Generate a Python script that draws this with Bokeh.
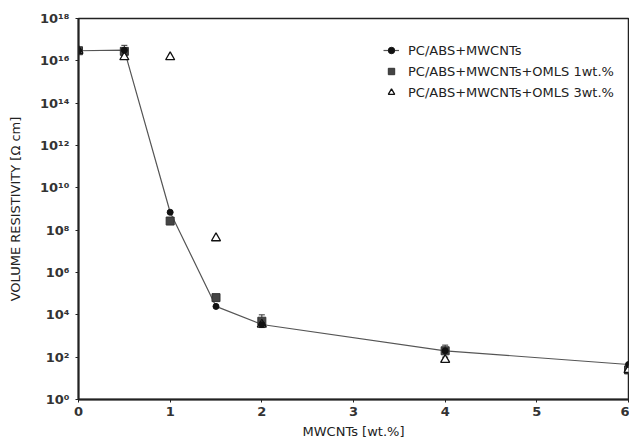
from bokeh.plotting import figure
from bokeh.models import FixedTicker, ColumnDataSource, Whisker, Legend, LegendItem, Range1d
from bokeh.embed import file_html
from bokeh.resources import INLINE

# data
x_vals = [0, 0.5, 1, 1.5, 2, 4, 6]
s1_name = "PC/ABS+MWCNTs"
s1_y = [3.0e16, 3.2e16, 7.0e8, 2.5e4, 3.5e3, 2.0e2, 4.5e1]
s2_name = "PC/ABS+MWCNTs+OMLS 1wt.%"
s2_y = [3.0e16, 2.8e16, 2.7e8, 6.5e4, 5.0e3, 2.0e2, 2.5e1]
s3_name = "PC/ABS+MWCNTs+OMLS 3wt.%"
s3_y = [3.0e16, 1.5e16, 1.5e16, 4.2e7, 3.5e3, 7.5e1, 2.5e1]
err_x = [0.5, 2, 4]
err_lo = [2.0e16, 2.5e3, 1.0e2]
err_hi = [5.4e16, 1.0e4, 3.7e2]
y_ticks = [1e0, 1e2, 1e4, 1e6, 1e8, 1e10, 1e12, 1e14, 1e16, 1e18]
y_tick_labels = ["10⁰", "10²", "10⁴", "10⁶", "10⁸", "10¹⁰", "10¹²", "10¹⁴", "10¹⁶", "10¹⁸"]
x_ticks = [0, 1, 2, 3, 4, 5, 6]

FONT = "DejaVu Sans"

p = figure(width=629, height=441, output_backend="svg", toolbar_location=None,
           y_axis_type="log", x_range=Range1d(0, 6), y_range=Range1d(1, 1e18),
           min_border_left=78, min_border_right=1, min_border_top=18, min_border_bottom=38)
p.grid.grid_line_color = None
p.outline_line_color = "#222222"
p.outline_line_width = 1.5
p.background_fill_color = "white"
p.border_fill_color = "white"

p.yaxis.ticker = FixedTicker(ticks=y_ticks)
p.yaxis.major_label_overrides = {t: l for t, l in zip(y_ticks, y_tick_labels)}
p.xaxis.ticker = FixedTicker(ticks=x_ticks)
for ax in (p.xaxis, p.yaxis):
    ax.minor_tick_line_color = None
    ax.axis_line_color = "#222222"
    ax.axis_line_width = 2
    ax.major_tick_line_color = "#222222"
    ax.major_tick_in = 0
    ax.major_tick_out = 3
    ax.major_label_text_font = FONT
    ax.major_label_text_font_size = "13px"
    ax.major_label_text_font_style = "bold"
    ax.major_label_text_color = "#333333"
    ax.axis_label_text_font = FONT
    ax.axis_label_text_font_size = "13px"
    ax.axis_label_text_font_style = "normal"
    ax.axis_label_text_color = "#222222"
p.yaxis.major_label_standoff = 6
p.xaxis.major_label_standoff = 4
p.yaxis.axis_label = "VOLUME RESISTIVITY [Ω cm]"
p.xaxis.axis_label = "MWCNTs [wt.%]"
p.yaxis.axis_label_standoff = 14
p.xaxis.axis_label_standoff = 5

src_err = ColumnDataSource(dict(x=err_x, lo=err_lo, hi=err_hi))
w = Whisker(source=src_err, base="x", lower="lo", upper="hi", dimension="height",
            line_color="#333333", line_width=1)
w.upper_head.size = 6
w.lower_head.size = 6
w.upper_head.line_color = "#333333"
w.lower_head.line_color = "#333333"
p.add_layout(w)

l1 = p.line(x_vals, s1_y, line_color="#555555", line_width=1.2)
sq = p.scatter(x_vals, s2_y, marker="square", size=8, fill_color="#444444", line_color="#333333")
tr = p.scatter(x_vals, s3_y, marker="triangle", size=9, fill_color="white", line_color="#111111", line_width=1.3)
c1 = p.scatter(x_vals, s1_y, marker="circle", size=6, fill_color="#111111", line_color="#111111")

legend = Legend(items=[
    LegendItem(label=s1_name, renderers=[l1, c1]),
    LegendItem(label=s2_name, renderers=[sq]),
    LegendItem(label=s3_name, renderers=[tr]),
], location=(305, 298))
legend.border_line_color = None
legend.background_fill_alpha = 0
legend.label_text_font = FONT
legend.label_text_font_size = "13px"
legend.label_text_color = "#222222"
legend.glyph_width = 16
legend.glyph_height = 18
legend.spacing = 3
legend.padding = 5
legend.label_standoff = 9
legend.label_height = 18
p.add_layout(legend)

open("out.html", "w").write(file_html(p, INLINE))
